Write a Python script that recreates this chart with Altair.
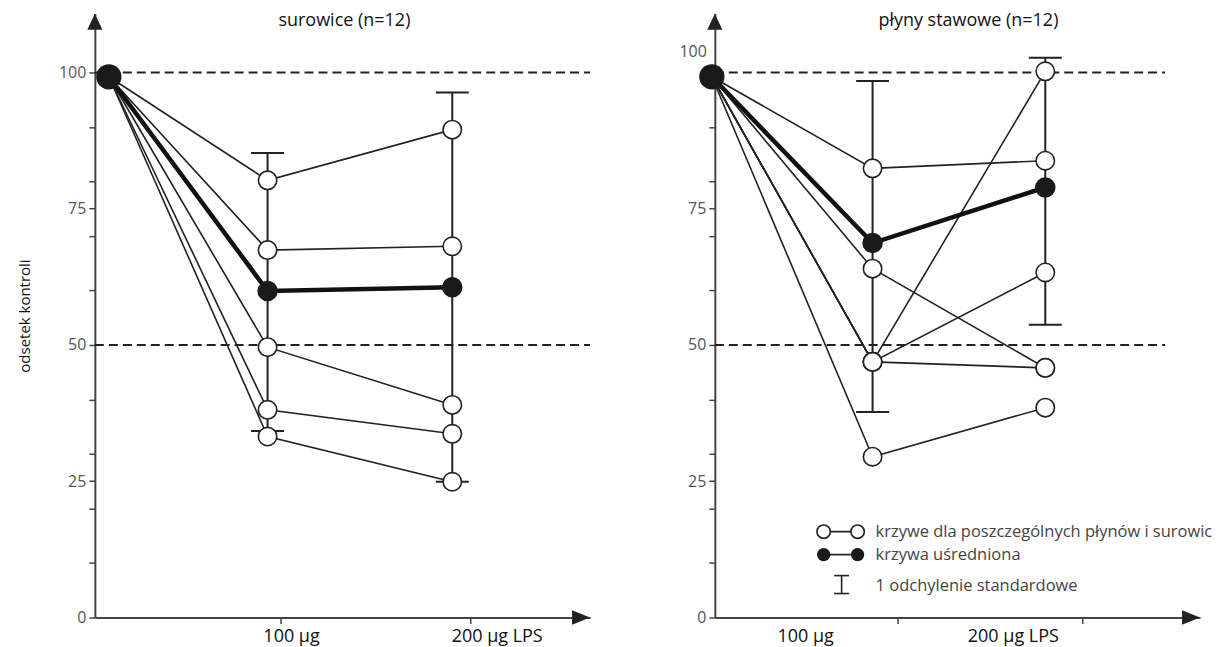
import altair as alt
import pandas as pd

# ---------------- data ----------------
XLABELS = ["100 μg", "200 μg LPS"]
YTICKS = [0, 10, 20, 25, 30, 40, 50, 60, 70, 75, 80, 90, 100]
YLABELED = [0, 25, 50, 75, 100]
REF_LINES = [100, 50]

# left panel: surowice
L_title = "surowice (n=12)"
L_xpos = [0.28, 3.46, 7.16]          # control, 100 ug, 200 ug
L_start = 99.2
L_ind_100 = [80.2, 67.4, 49.6, 38.1, 33.2]
L_ind_200 = [89.5, 68.1, 39.0, 33.7, 24.9]
L_mean = [99.2, 59.9, 60.6]
L_sd_100 = [34.2, 85.2]
L_sd_200 = [24.9, 96.3]
L_ticks = [3.72, 7.52]
L_xlabel_pos = [3.94, 8.06]
L_width_units = 9.92
L_ref_end = 9.92

# right panel: płyny stawowe
R_title = "płyny stawowe (n=12)"
R_xpos = [-0.06, 3.16, 6.62]
R_start = 99.2
R_ind_100 = [82.4, 64.0, 46.9, 46.9, 46.9, 29.5]
R_ind_200 = [83.8, 45.8, 100.2, 63.3, 45.8, 38.5]
R_mean = [99.2, 68.7, 78.9]
R_sd_100 = [37.7, 98.4]
R_sd_200 = [53.7, 102.7]
R_ticks = [3.66, 7.36]
R_xlabel_pos = [1.82, 5.98]
R_width_units = 9.72
R_ref_end = 9.02

LEGEND_TEXT = ["krzywe dla poszczególnych płynów i surowic",
               "krzywa uśredniona",
               "1 odchylenie standardowe"]
LEG_Y = [15.75, 11.54, 5.86]
LEG_SYM_X = [2.18, 2.86]
LEG_SD_X = 2.54
LEG_SD_Y = [4.4, 7.69]
LEG_TEXT_X = 3.22

YMAX = 110.8
PXU = 50.0
HEIGHT = 605
INK = "#222222"
FONT = "Open Sans"

UP_ARROW = "M0,-1L0.95,1L-0.95,1Z"
RIGHT_ARROW = "M1,0L-1,-0.8L-1,0.8Z"


def panel(title, xpos, start, ind100, ind200, mean, sd100, sd200, ticks,
          xlabel_pos, wunits, ref_end, left=True):
    xs = alt.Scale(domain=[0, wunits], nice=False, zero=False)
    ys = alt.Scale(domain=[0, YMAX], nice=False, zero=False)
    lab_expr = ("indexof([0,25,50,75,100], datum.value) >= 0 ? datum.label : ''"
                if left else
                "indexof([0,25,50,75], datum.value) >= 0 ? datum.label : ''")
    xax = alt.Axis(values=ticks, labels=False, title=None, grid=False,
                   tickSize=6, domainWidth=2, tickWidth=1.5)
    yax = alt.Axis(values=YTICKS, labelExpr=lab_expr, grid=False,
                   title="odsetek kontroli" if left else None,
                   tickSize=6, domainWidth=2, tickWidth=1.5, labelPadding=3,
                   titlePadding=26, titleFontSize=15, titleFontWeight="normal",
                   titleColor="#111111", titleFont=FONT)
    X = lambda f: alt.X(f, type="quantitative", scale=xs, axis=xax)
    Y = lambda f: alt.Y(f, type="quantitative", scale=ys, axis=yax)

    ref = pd.DataFrame({"x": [0] * len(REF_LINES), "x2": [ref_end] * len(REF_LINES),
                        "y": REF_LINES})
    l_ref = alt.Chart(ref).mark_rule(strokeDash=[9, 5], strokeWidth=2, color=INK).encode(
        x=X("x"), x2="x2", y=Y("y"))

    sd = pd.DataFrame({"x": [xpos[1], xpos[2]], "lo": [sd100[0], sd200[0]],
                       "hi": [sd100[1], sd200[1]]})
    l_sd = alt.Chart(sd).mark_rule(strokeWidth=2, color=INK).encode(
        x=X("x"), y=Y("lo"), y2="hi")
    caps = pd.DataFrame({"x": [xpos[1]] * 2 + [xpos[2]] * 2,
                         "y": [sd100[0], sd100[1], sd200[0], sd200[1]]})
    l_caps = alt.Chart(caps).mark_tick(orient="horizontal", size=33, thickness=2,
                                       color=INK, opacity=1).encode(x=X("x"), y=Y("y"))

    rows = []
    for i, (a, b) in enumerate(zip(ind100, ind200)):
        rows += [{"s": i, "o": 0, "x": xpos[0], "y": start},
                 {"s": i, "o": 1, "x": xpos[1], "y": a},
                 {"s": i, "o": 2, "x": xpos[2], "y": b}]
    ind = pd.DataFrame(rows)
    l_ind = alt.Chart(ind).mark_line(strokeWidth=1.6, color=INK).encode(
        x=X("x"), y=Y("y"), detail="s:N", order="o:Q")

    md = pd.DataFrame({"x": xpos, "y": mean, "o": [0, 1, 2]})
    l_mean = alt.Chart(md).mark_line(strokeWidth=4.5, color="#111").encode(
        x=X("x"), y=Y("y"), order="o:Q")

    pts = pd.DataFrame({"x": [xpos[1]] * len(ind100) + [xpos[2]] * len(ind200),
                        "y": list(ind100) + list(ind200)})
    l_open = alt.Chart(pts).mark_point(shape="circle", filled=True, fill="white",
                                       stroke=INK, strokeWidth=1.6, size=340,
                                       opacity=1).encode(x=X("x"), y=Y("y"))
    l_mdot = alt.Chart(md[md.o > 0]).mark_point(shape="circle", filled=True,
                                                color="#1a1a1a", size=420,
                                                opacity=1).encode(x=X("x"), y=Y("y"))
    l_start = alt.Chart(md[md.o == 0]).mark_point(shape="circle", filled=True,
                                                  color="#1a1a1a", size=640,
                                                  opacity=1).encode(x=X("x"), y=Y("y"))

    arr = pd.DataFrame({"x": [0], "y": [109.3]})
    l_up = alt.Chart(arr).mark_point(shape=UP_ARROW, filled=True, color=INK, size=256,
                                     opacity=1).encode(x=X("x"), y=Y("y"))
    arr2 = pd.DataFrame({"x": [wunits - 0.18], "y": [0]})
    l_right = alt.Chart(arr2).mark_point(shape=RIGHT_ARROW, filled=True, color=INK,
                                         size=324, opacity=1).encode(x=X("x"), y=Y("y"))

    tt = pd.DataFrame({"x": [5.0 if left else 5.08], "y": [109.5], "t": [title]})
    l_title = alt.Chart(tt).mark_text(font=FONT, fontSize=18, color="#111",
                                      baseline="middle").encode(
        x=X("x"), y=Y("y"), text="t:N")

    xl = pd.DataFrame({"x": xlabel_pos, "y": [-3.5, -3.5], "t": XLABELS})
    l_xl = alt.Chart(xl).mark_text(font=FONT, fontSize=18, color="#111",
                                   baseline="middle").encode(
        x=X("x"), y=Y("y"), text="t:N")

    layers = [l_ref, l_sd, l_caps, l_ind, l_mean, l_open, l_mdot, l_start,
              l_up, l_right, l_title, l_xl]

    if not left:
        h = pd.DataFrame({"x": [-0.16], "y": [103.7], "t": ["100"]})
        layers.append(alt.Chart(h).mark_text(font=FONT, fontSize=16, color="#555",
                                             align="right", baseline="middle").encode(
            x=X("x"), y=Y("y"), text="t:N"))
        # legend
        lseg = pd.DataFrame({"x": [LEG_SYM_X[0]] * 2, "x2": [LEG_SYM_X[1]] * 2,
                             "y": LEG_Y[:2]})
        layers.append(alt.Chart(lseg).mark_rule(strokeWidth=1.6, color=INK).encode(
            x=X("x"), x2="x2", y=Y("y")))
        lo = pd.DataFrame({"x": LEG_SYM_X, "y": [LEG_Y[0]] * 2})
        layers.append(alt.Chart(lo).mark_point(shape="circle", filled=True, fill="white",
                                               stroke=INK, strokeWidth=1.6, size=180,
                                               opacity=1).encode(x=X("x"), y=Y("y")))
        lb = pd.DataFrame({"x": LEG_SYM_X, "y": [LEG_Y[1]] * 2})
        layers.append(alt.Chart(lb).mark_point(shape="circle", filled=True,
                                               color="#1a1a1a", size=180,
                                               opacity=1).encode(x=X("x"), y=Y("y")))
        lsd = pd.DataFrame({"x": [LEG_SD_X], "lo": [LEG_SD_Y[0]], "hi": [LEG_SD_Y[1]]})
        layers.append(alt.Chart(lsd).mark_rule(strokeWidth=1.6, color=INK).encode(
            x=X("x"), y=Y("lo"), y2="hi"))
        lsc = pd.DataFrame({"x": [LEG_SD_X] * 2, "y": LEG_SD_Y})
        layers.append(alt.Chart(lsc).mark_tick(orient="horizontal", size=15, thickness=1.6,
                                               color=INK, opacity=1).encode(
            x=X("x"), y=Y("y")))
        lt = pd.DataFrame({"x": [LEG_TEXT_X] * 3, "y": LEG_Y, "t": LEGEND_TEXT})
        layers.append(alt.Chart(lt).mark_text(font=FONT, fontSize=16.5, color="#444",
                                              align="left", baseline="middle").encode(
            x=X("x"), y=Y("y"), text="t:N"))

    return alt.layer(*layers).properties(width=wunits * PXU, height=HEIGHT)


left = panel(L_title, L_xpos, L_start, L_ind_100, L_ind_200, L_mean, L_sd_100,
             L_sd_200, L_ticks, L_xlabel_pos, L_width_units, L_ref_end, left=True)
right = panel(R_title, R_xpos, R_start, R_ind_100, R_ind_200, R_mean, R_sd_100,
              R_sd_200, R_ticks, R_xlabel_pos, R_width_units, R_ref_end, left=False)

chart = alt.hconcat(left, right, spacing=88).properties(
    padding={"left": 9, "top": 3, "right": 5, "bottom": 5}
).configure_view(stroke=None).configure_axis(
    domainColor="#444", tickColor="#444", labelColor="#555", labelFont=FONT,
    labelFontSize=16
)

chart.save("out.html", embed_options={"renderer": "svg", "actions": False})
